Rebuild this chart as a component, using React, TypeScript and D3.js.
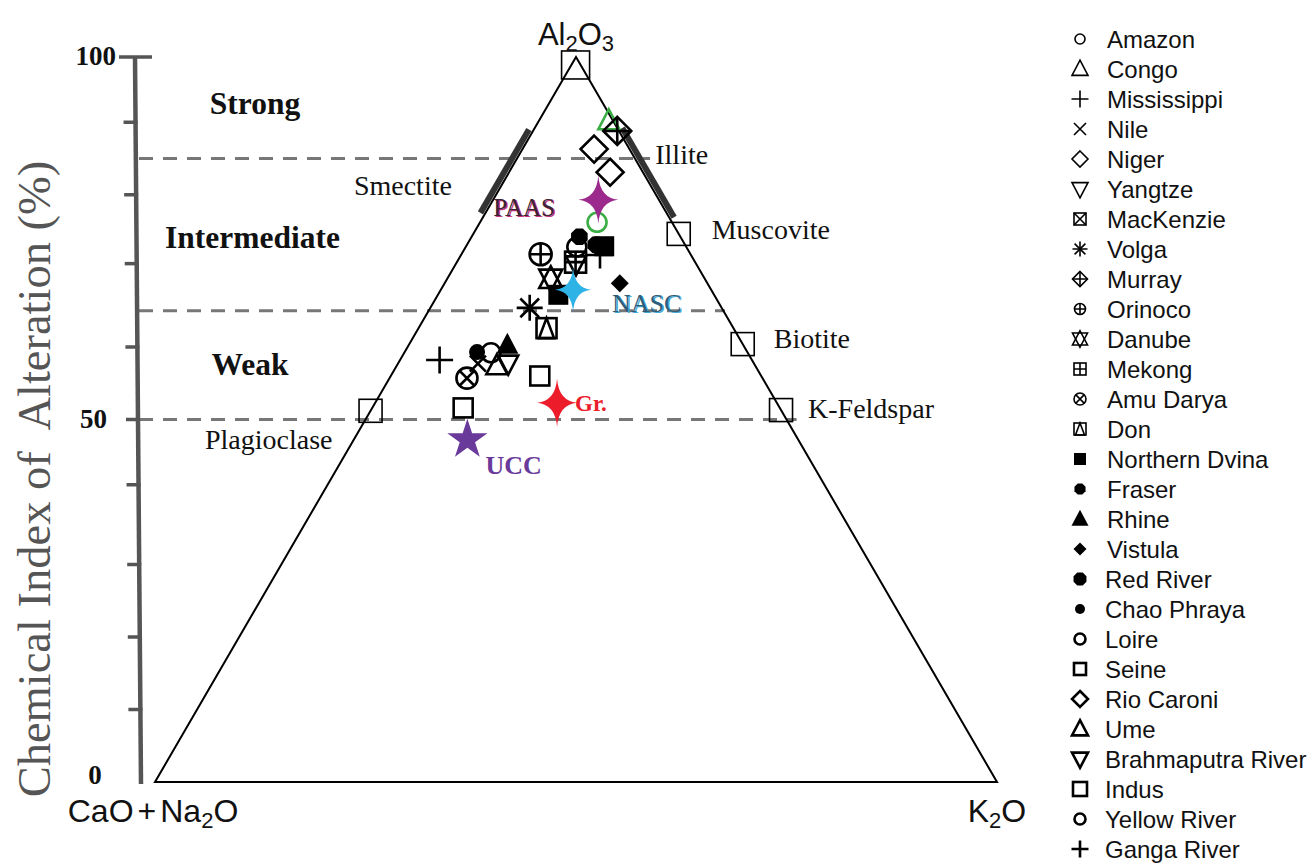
import React from "react";
import * as d3 from "d3";

// values: CIA (%) and K2O (%) of each sample
const legendNames = [
  "Amazon", "Congo", "Mississippi", "Nile", "Niger", "Yangtze", "MacKenzie",
  "Volga", "Murray", "Orinoco", "Danube", "Mekong", "Amu Darya", "Don",
  "Northern Dvina", "Fraser", "Rhine", "Vistula", "Red River", "Chao Phraya",
  "Loire", "Seine", "Rio Caroni", "Ume", "Brahmaputra River", "Indus",
  "Yellow River", "Ganga River",
];

const sampleNames = [
  "Congo", "Murray", "Rio Caroni", "Niger", "Amazon", "Red River", "Loire",
  "Fraser", "Northern Dvina", "Mississippi", "Mekong", "Yangtze", "Orinoco",
  "Danube", "Northern Dvina", "Vistula", "Volga", "Don", "Rhine",
  "Brahmaputra River", "Ume", "Yellow River", "Chao Phraya", "Amu Darya",
  "Nile", "Ganga River", "Seine", "Indus",
];
const sampleCIA = [
  91.2, 89.8, 87.3, 84.1, 77.2, 75.2, 73.8, 74.1, 73.9, 72.7, 71.7, 71.4, 72.8,
  69.4, 67.2, 68.8, 65.4, 62.6, 60.3, 57.7, 57.4, 59.2, 59.3, 55.7, 57.7, 58.2,
  56.0, 51.6,
];
const sampleK2O = [
  8.3, 10.0, 8.5, 12.0, 13.9, 12.8, 13.2, 15.3, 16.4, 16.5, 14.1, 14.3, 9.4,
  12.3, 14.3, 20.8, 11.8, 15.2, 11.7, 13.1, 11.9, 10.3, 8.6, 9.2, 9.5, 4.7,
  17.7, 10.8,
];
const greenSampleIdx = [0, 4];

const refNames = ["PAAS", "NASC", "UCC", "Gr."];
const refCIA = [80.3, 67.9, 47.2, 52.3];
const refK2O = [12.5, 15.7, 13.5, 21.6];

const mineralNames = ["Kaolinite", "Muscovite", "Biotite", "K-Feldspar", "Plagioclase"];
const mineralCIA = [98.9, 75.6, 60.4, 51.3, 51.2];
const mineralK2O = [0.5, 24.4, 39.6, 48.7, 0];

const clayNames = ["Smectite", "Illite"];
const clayCIA = [[90, 78.5], [90.2, 77.9]];

const zoneNames = ["Strong", "Intermediate", "Weak"];
const zoneLabelCIA = [93.5, 75, 57.5];
const zoneLines = [86, 65, 50];
const zoneLineEndK2O = [15.8, 35.2, 51.2];

const axisTicks = [91, 81, 71.5, 60, 50, 41, 30, 20, 10];
const axisLabels = [100, 50, 0];

// ---- geometry ----
const W = 1314;
const H = 864;
const baseLeft = 155;
const baseRight = 997;
const y = d3.scaleLinear().domain([0, 100]).range([782, 57]);
const k = d3.scaleLinear().domain([0, 100]).range([0, baseRight - baseLeft]);
const tx = (cia: number, k2o: number) => baseLeft + k(k2o) + k(cia) / 2;
const ty = (cia: number) => y(cia);

const symbolOf: Record<string, string> = {
  Amazon: "circle", Congo: "tri", Mississippi: "plus", Nile: "cross",
  Niger: "diamond", Yangtze: "triDown", MacKenzie: "squareX", Volga: "asterisk",
  Murray: "diamondPlus", Orinoco: "circlePlus", Danube: "star6",
  Mekong: "squarePlus", "Amu Darya": "circleX", Don: "squareTri",
  "Northern Dvina": "squareFill", Fraser: "octFill", Rhine: "triFill",
  Vistula: "diamondFill", "Red River": "octFill", "Chao Phraya": "circleFill",
  Loire: "circle", Seine: "square", "Rio Caroni": "diamond", Ume: "tri",
  "Brahmaputra River": "triDown", Indus: "square", "Yellow River": "circle",
  "Ganga River": "plus",
};
const thick = new Set(["Loire", "Seine", "Rio Caroni", "Ume", "Brahmaputra River", "Indus", "Yellow River", "Ganga River"]);
const legendSize: Record<string, number> = {
  Amazon: 10, Congo: 16, Mississippi: 17, Nile: 12, Niger: 16, Yangtze: 16,
  MacKenzie: 12, Volga: 15, Murray: 15, Orinoco: 11, Danube: 15, Mekong: 12,
  "Amu Darya": 12, Don: 12, "Northern Dvina": 12, Fraser: 12, Rhine: 17,
  Vistula: 13, "Red River": 14, "Chao Phraya": 10, Loire: 11, Seine: 12,
  "Rio Caroni": 16, Ume: 16, "Brahmaputra River": 16, Indus: 14,
  "Yellow River": 11, "Ganga River": 17,
};
const plotSize: Record<string, number> = {
  circle: 19, circleFill: 16, tri: 21, triDown: 20, triFill: 22, plus: 27,
  cross: 16, diamond: 27, diamondFill: 18, diamondPlus: 28, square: 19,
  squareFill: 20, squareX: 19, squarePlus: 21, squareTri: 20, asterisk: 26,
  circlePlus: 22, circleX: 21, star6: 23, octFill: 18,
};

const refColor: Record<string, string> = {
  PAAS: "#9b2a8c", NASC: "#2db3e6", UCC: "#6a3a9a", "Gr.": "#ec1c2a",
};

function Marker({ type, x, y, s, color = "#000", sw = 2 }: any) {
  const h = s / 2;
  const line = { stroke: color, strokeWidth: sw, fill: "none" };
  const solid = { fill: color, stroke: "none" };
  const triUp = `0,${-h * 1.1} ${h},${h * 0.8} ${-h},${h * 0.8}`;
  const triDn = `0,${h * 1.1} ${h},${-h * 0.8} ${-h},${-h * 0.8}`;
  const dia = `0,${-h} ${h},0 0,${h} ${-h},0`;
  const plusD = `M${-h},0H${h}M0,${-h}V${h}`;
  const crossD = `M${-h},${-h}L${h},${h}M${h},${-h}L${-h},${h}`;
  const oct = d3.range(8).map((i) => {
    const a = Math.PI / 8 + (i * Math.PI) / 4;
    return `${h * Math.cos(a)},${h * Math.sin(a)}`;
  }).join(" ");
  let body: any = null;
  switch (type) {
    case "circle": body = <circle r={h} {...line} />; break;
    case "circleFill": body = <circle r={h} {...solid} />; break;
    case "tri": body = <polygon points={triUp} {...line} />; break;
    case "triDown": body = <polygon points={triDn} {...line} />; break;
    case "triFill": body = <polygon points={triUp} {...solid} />; break;
    case "plus": body = <path d={plusD} {...line} />; break;
    case "cross": body = <path d={crossD} {...line} />; break;
    case "diamond": body = <polygon points={dia} {...line} />; break;
    case "diamondFill": body = <polygon points={dia} {...solid} />; break;
    case "diamondPlus": body = <g><polygon points={dia} {...line} /><path d={plusD} {...line} /></g>; break;
    case "square": body = <rect x={-h} y={-h} width={s} height={s} {...line} />; break;
    case "squareFill": body = <rect x={-h} y={-h} width={s} height={s} {...solid} />; break;
    case "squareX": body = <g><rect x={-h} y={-h} width={s} height={s} {...line} /><path d={crossD} {...line} /></g>; break;
    case "squarePlus": body = <g><rect x={-h} y={-h} width={s} height={s} {...line} /><path d={plusD} {...line} /></g>; break;
    case "squareTri": body = <g><rect x={-h} y={-h} width={s} height={s} {...line} /><polygon points={`0,${-h} ${h * 0.75},${h} ${-h * 0.75},${h}`} {...line} /></g>; break;
    case "asterisk": {
      const r = h * 0.72;
      body = <g><path d={plusD} {...line} /><path d={`M${-r},${-r}L${r},${r}M${r},${-r}L${-r},${r}`} {...line} /></g>;
      break;
    }
    case "circlePlus": body = <g><circle r={h} {...line} /><path d={plusD} {...line} /></g>; break;
    case "circleX": {
      const r = h * 0.72;
      body = <g><circle r={h} {...line} /><path d={`M${-r},${-r}L${r},${r}M${r},${-r}L${-r},${r}`} {...line} /></g>;
      break;
    }
    case "star6": body = <g><polygon points={triUp} {...line} /><polygon points={triDn} {...line} /></g>; break;
    case "octFill": body = <polygon points={oct} {...solid} />; break;
  }
  return <g transform={`translate(${x},${y})`}>{body}</g>;
}

// four-pointed sparkle used for PAAS, NASC and Gr.
function sparkle(w: number, h: number) {
  const c = w * 0.09;
  return `M0,${-h}Q${c},${-c} ${w},0Q${c},${c} 0,${h}Q${-c},${c} ${-w},0Q${-c},${-c} 0,${-h}Z`;
}

const serif = "'Liberation Serif', 'Times New Roman', serif";
const sans = "'Liberation Sans', Arial, sans-serif";

export default function App() {
  const mineralLabel: Record<string, [number, number, string]> = {
    Muscovite: [33, 5, "start"],
    Biotite: [31, 4, "start"],
    "K-Feldspar": [27, 8, "start"],
    Plagioclase: [-38, 38, "end"],
  };
  const refLabel: Record<string, [number, number, number, boolean]> = {
    PAAS: [-105, 16, 25, false],
    NASC: [39, 22, 26, false],
    UCC: [18, 34, 26, true],
    "Gr.": [18, 8, 23, true],
  };
  const star5 = d3.symbol(d3.symbolStar, 500)() as string;

  return (
    <svg width={W} height={H} style={{ position: "absolute", left: 0, top: 0, background: "#fff" }}>
      {/* dashed weathering boundaries */}
      {zoneLines.map((c, i) => (
        <line key={"z" + i} x1={139} x2={tx(c, zoneLineEndK2O[i])} y1={ty(c)} y2={ty(c)}
          stroke="#777" strokeWidth={3} strokeDasharray="14 10" />
      ))}

      {/* CIA axis */}
      <line x1={135} y1={y(100)} x2={141} y2={y(0) + 2} stroke="#555" strokeWidth={4.5} />
      <line x1={119} x2={152} y1={y(100)} y2={y(100)} stroke="#555" strokeWidth={3.5} />
      {axisTicks.map((t) => (
        <line key={"t" + t} x1={123 + (100 - t) * 0.06} x2={137 + (100 - t) * 0.06} y1={y(t)} y2={y(t)}
          stroke="#555" strokeWidth={3.5} />
      ))}
      {axisLabels.map((t) => (
        <text key={"l" + t} x={t === 0 ? 95 : t === 50 ? 107 : 116} y={t === 0 ? y(t) + 2 : y(t) + 8}
          textAnchor={t === 0 ? "middle" : "end"} fontFamily={serif} fontWeight="bold" fontSize={27} fill="#111">
          {t}
        </text>
      ))}
      <text transform={`translate(50,479) rotate(-90)`} textAnchor="middle" fontFamily={serif}
        fontSize={46.5} fill="#555" style={{ whiteSpace: "pre" }}>
        {"Chemical Index of  Alteration (%)"}
      </text>

      {/* ternary frame */}
      <polygon points={`${tx(0, 0)},${ty(0)} ${tx(0, 100)},${ty(0)} ${tx(100, 0)},${ty(100)}`}
        fill="none" stroke="#000" strokeWidth={2} />

      {/* clay mineral bars */}
      <line x1={tx(clayCIA[0][0], 0) - 5} y1={ty(clayCIA[0][0])} x2={tx(clayCIA[0][1], 0) - 5} y2={ty(clayCIA[0][1])}
        stroke="#333" strokeWidth={6} />
      <line x1={tx(clayCIA[1][0], 100 - clayCIA[1][0]) + 5} y1={ty(clayCIA[1][0])}
        x2={tx(clayCIA[1][1], 100 - clayCIA[1][1]) + 5} y2={ty(clayCIA[1][1])} stroke="#333" strokeWidth={6} />

      {/* minerals */}
      {mineralNames.map((m, i) => {
        const x = tx(mineralCIA[i], mineralK2O[i]);
        const yy = ty(mineralCIA[i]);
        const lab = mineralLabel[m];
        return (
          <g key={m}>
            <Marker type="square" x={x} y={yy} s={i === 0 ? 28 : 23} sw={1.6} />
            {lab && (
              <text x={x + lab[0]} y={yy + lab[1]} textAnchor={lab[2]} fontFamily={serif} fontSize={28} fill="#111">{m}</text>
            )}
          </g>
        );
      })}

      {/* clay labels */}
      <text x={tx(clayCIA[0][0], 0) - 180} y={ty(clayCIA[0][0]) + 65} fontFamily={serif} fontSize={28} fill="#111">{clayNames[0]}</text>
      <text x={tx(clayCIA[1][0], 100 - clayCIA[1][0]) + 38} y={ty(clayCIA[1][0]) + 36} fontFamily={serif} fontSize={28} fill="#111">{clayNames[1]}</text>

      {/* zone labels */}
      {zoneNames.map((z, i) => (
        <text key={z} x={255 - i * 2.5} y={ty(zoneLabelCIA[i]) + 10} textAnchor="middle" fontFamily={serif}
          fontWeight="bold" fontSize={31.5} fill="#111">{z}</text>
      ))}

      {/* river samples */}
      {sampleNames.map((n, i) => {
        const t = symbolOf[n];
        const green = greenSampleIdx.includes(i);
        return (
          <Marker key={"s" + i} type={t} x={tx(sampleCIA[i], sampleK2O[i])} y={ty(sampleCIA[i])}
            s={plotSize[t]} sw={2.6} color={green ? "#3aae45" : "#000"} />
        );
      })}

      {/* reference compositions */}
      {refNames.map((r, i) => {
        const x = tx(refCIA[i], refK2O[i]);
        const yy = ty(refCIA[i]);
        const lab = refLabel[r];
        const col = refColor[r];
        return (
          <g key={r}>
            {r === "UCC" ? (
              <path d={star5} transform={`translate(${x},${yy})`} fill={col} />
            ) : (
              <path d={r === "NASC" ? sparkle(18, 22) : sparkle(20, 24)} transform={`translate(${x},${yy})`} fill={col} />
            )}
            {lab[3] ? (
              <text x={x + lab[0]} y={yy + lab[1]} fontFamily={serif} fontWeight="bold" fontSize={lab[2]} fill={col}>{r}</text>
            ) : (
              <g>
                <text x={x + lab[0] + 1.5} y={yy + lab[1] + 1} fontFamily={serif} fontSize={lab[2]} fill={r === "PAAS" ? "#c8327e" : "#3fa9d6"}>{r}</text>
                <text x={x + lab[0]} y={yy + lab[1]} fontFamily={serif} fontSize={lab[2]} fill={r === "PAAS" ? "#3b2433" : "#2f5d78"}>{r}</text>
              </g>
            )}
          </g>
        );
      })}

      {/* vertex labels */}
      <text x={tx(100, 0)} y={45} textAnchor="middle" fontFamily={sans} fontSize={31} fill="#111">
        Al<tspan fontSize={22} dy={6}>2</tspan><tspan dy={-6}>O</tspan><tspan fontSize={22} dy={6}>3</tspan>
      </text>
      <text x={153} y={822} textAnchor="middle" fontFamily={sans} fontSize={32} fill="#111">
        CaO<tspan dx={4}>+</tspan><tspan dx={4}>Na</tspan><tspan fontSize={22} dy={6}>2</tspan><tspan dy={-6}>O</tspan>
      </text>
      <text x={997} y={822} textAnchor="middle" fontFamily={sans} fontSize={32} fill="#111">
        K<tspan fontSize={22} dy={6}>2</tspan><tspan dy={-6}>O</tspan>
      </text>

      {/* legend */}
      {legendNames.map((n, i) => {
        const yy = 40 + i * 30;
        return (
          <g key={"lg" + n}>
            <Marker type={symbolOf[n]} x={1080} y={yy - 1} s={legendSize[n]} sw={thick.has(n) ? 2.6 : 1.6} />
            <text x={i >= 18 ? 1105 : 1107} y={yy + 8} fontFamily={sans} fontSize={24} fill="#111">{n}</text>
          </g>
        );
      })}
    </svg>
  );
}
